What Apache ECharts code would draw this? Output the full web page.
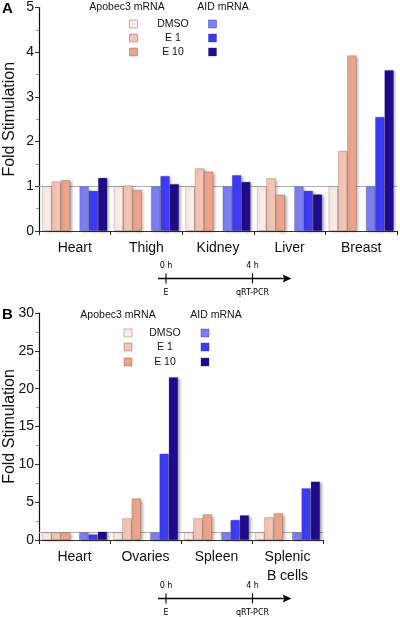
<!DOCTYPE html>
<html>
<head>
<meta charset="utf-8">
<script src="https://cdn.jsdelivr.net/npm/echarts@6/dist/echarts.min.js"></script>
<style>html,body{margin:0;padding:0;background:#fff;}#c{width:400px;height:617px;}</style>
</head>
<body>
<div id="c"></div>
<script>
// ---- Data ----
const catsA = ['Heart', 'Thigh', 'Kidney', 'Liver', 'Breast'];
const apoDmsoA = [1, 1, 1, 1, 1];
const apoE1A = [1.11, 1.02, 1.40, 1.18, 1.79];
const apoE10A = [1.14, 0.92, 1.33, 0.81, 3.93];
const aidDmsoA = [1, 1, 1, 1, 1];
const aidE1A = [0.90, 1.23, 1.25, 0.90, 2.55];
const aidE10A = [1.19, 1.05, 1.10, 0.82, 3.60];

const catsB = ['Heart', 'Ovaries', 'Spleen', 'Splenic\nB cells'];
const apoDmsoB = [1, 1, 1, 1];
const apoE1B = [1, 2.87, 2.87, 3.0];
const apoE10B = [1, 5.5, 3.4, 3.53];
const aidDmsoB = [1, 1, 1, 1];
const aidE1B = [0.75, 11.4, 2.65, 6.84];
const aidE10B = [1.1, 21.5, 3.27, 7.72];

const legendNames = ['DMSO', 'E 1', 'E 10'];
const apoColors = ['#fcebe5', '#f5c5b3', '#eda48a'];
const aidColors = ['#7c7ef4', '#3d3cf6', '#1e0b8e'];

// ---- Chart ----
const FONT = 'Liberation Sans, Arial, sans-serif';
const chart = echarts.init(document.getElementById('c'), null, {renderer: 'canvas'});

function barSeries(name, data, color, idx) {
  return {
    name: name, type: 'bar', xAxisIndex: idx, yAxisIndex: idx, data: data,
    barWidth: 9.3, barGap: '0%', z: 3,
    itemStyle: {
      color: color, borderColor: 'rgba(60,40,40,0.35)', borderWidth: 0.6,
      shadowColor: 'rgba(0,0,0,0.35)', shadowBlur: 3, shadowOffsetX: 2, shadowOffsetY: 1
    }
  };
}
function gapSeries(idx, n) {
  return {
    name: 'gap' + idx, type: 'bar', xAxisIndex: idx, yAxisIndex: idx,
    data: new Array(n).fill('-'), barWidth: 9.3, barGap: '0%', z: 1, silent: true,
    markLine: {
      silent: true, symbol: 'none', label: {show: false}, z: 1,
      lineStyle: {color: '#b0b0b0', width: 1, type: 'solid'},
      data: [{yAxis: 1}]
    }
  };
}
function panelSeries(idx, vals, n) {
  return [
    barSeries('Apobec3 DMSO', vals[0], apoColors[0], idx),
    barSeries('Apobec3 E 1', vals[1], apoColors[1], idx),
    barSeries('Apobec3 E 10', vals[2], apoColors[2], idx),
    gapSeries(idx, n),
    barSeries('AID DMSO', vals[3], aidColors[0], idx),
    barSeries('AID E 1', vals[4], aidColors[1], idx),
    barSeries('AID E 10', vals[5], aidColors[2], idx)
  ];
}

function xAxisDef(cats, idx) {
  return {
    type: 'category', gridIndex: idx, data: cats,
    axisLine: {lineStyle: {color: '#333', width: 1.2}},
    axisTick: {show: true, length: 4, lineStyle: {color: '#222'}},
    axisLabel: {color: '#111', fontFamily: FONT, fontSize: 14, margin: 8, lineHeight: 19}
  };
}
function yAxisDef(max, interval, idx) {
  return {
    type: 'value', gridIndex: idx, min: 0, max: max, interval: interval,
    name: 'Fold Stimulation', nameLocation: 'middle', nameRotate: 90, nameGap: 21,
    nameMoveOverlap: false,
    nameTextStyle: {color: '#111', fontFamily: FONT, fontSize: 16},
    axisLine: {show: true, lineStyle: {color: '#111', width: 1.2}},
    axisTick: {show: true, length: 4, lineStyle: {color: '#333'}},
    minorTick: {show: true, splitNumber: 2, length: 3, lineStyle: {color: '#999'}},
    splitLine: {show: false},
    axisLabel: {color: '#111', fontFamily: FONT, fontSize: 14, margin: 5}
  };
}

function legendGraphics(cfg) {
  const g = [];
  g.push({type: 'text', x: cfg.apoTitleX, y: cfg.titleY,
    style: {text: 'Apobec3 mRNA', font: '10.5px ' + FONT, fill: '#111', textAlign: 'center', textVerticalAlign: 'middle'}});
  g.push({type: 'text', x: cfg.aidTitleX, y: cfg.titleY,
    style: {text: 'AID mRNA', font: '10.5px ' + FONT, fill: '#111', textAlign: 'center', textVerticalAlign: 'middle'}});
  for (let i = 0; i < 3; i++) {
    const y = cfg.rowY[i];
    g.push({type: 'rect', shape: {x: cfg.apoSqX, y: y - 4, width: 8, height: 8},
      style: {fill: apoColors[i], stroke: 'rgba(90,60,60,0.5)', lineWidth: 0.7}});
    g.push({type: 'rect', shape: {x: cfg.aidSqX, y: y - 4, width: 8, height: 8},
      style: {fill: aidColors[i], stroke: 'rgba(40,40,90,0.5)', lineWidth: 0.7}});
    g.push({type: 'text', x: cfg.labelX, y: y, style: {text: legendNames[i], font: '10.5px ' + FONT,
      fill: '#111', textAlign: 'center', textVerticalAlign: 'middle'}});
  }
  return g;
}

function timeline(y0) {
  const g = [];
  const x0 = 158, xTip = 291.5, t0 = 166, t4 = 252.5;
  g.push({type: 'line', shape: {x1: x0, y1: y0, x2: xTip - 6, y2: y0}, style: {stroke: '#000', lineWidth: 1.3}});
  g.push({type: 'polygon', shape: {points: [[xTip, y0], [xTip - 9, y0 - 4], [xTip - 7, y0], [xTip - 9, y0 + 4]]}, style: {fill: '#000'}});
  g.push({type: 'line', shape: {x1: t0, y1: y0 - 5, x2: t0, y2: y0 + 5}, style: {stroke: '#000', lineWidth: 1.1}});
  g.push({type: 'line', shape: {x1: t4, y1: y0 - 5, x2: t4, y2: y0 + 5}, style: {stroke: '#000', lineWidth: 1.1}});
  const f = '8px DejaVu Sans, sans-serif';
  g.push({type: 'text', x: t0, y: y0 - 13, style: {text: '0 h', font: f, fill: '#000', textAlign: 'center', textVerticalAlign: 'middle'}});
  g.push({type: 'text', x: t4, y: y0 - 13, style: {text: '4 h', font: f, fill: '#000', textAlign: 'center', textVerticalAlign: 'middle'}});
  g.push({type: 'text', x: t0, y: y0 + 14, style: {text: 'E', font: f, fill: '#000', textAlign: 'center', textVerticalAlign: 'middle'}});
  g.push({type: 'text', x: t4, y: y0 + 14, style: {text: 'qRT-PCR', font: f, fill: '#000', textAlign: 'center', textVerticalAlign: 'middle'}});
  return g;
}

const graphics = [].concat(
  [{type: 'text', x: 2, y: 9, style: {text: 'A', font: 'bold 15px ' + FONT, fill: '#000', textVerticalAlign: 'middle'}},
   {type: 'text', x: 2, y: 315, style: {text: 'B', font: 'bold 15px ' + FONT, fill: '#000', textVerticalAlign: 'middle'}}],
  legendGraphics({apoTitleX: 127, aidTitleX: 223, titleY: 7, rowY: [24, 38, 52], apoSqX: 129.5, aidSqX: 208.5, labelX: 173}),
  legendGraphics({apoTitleX: 118, aidTitleX: 216, titleY: 315, rowY: [333, 347, 362], apoSqX: 124, aidSqX: 201, labelX: 165}),
  timeline(278.5),
  timeline(598.5)
);

const option = {
  animation: false,
  backgroundColor: '#fff',
  grid: [
    {left: 39, top: 7.5, width: 358, height: 223.5, containLabel: false, outerBoundsMode: 'none'},
    {left: 39, top: 313, width: 284, height: 227, containLabel: false, outerBoundsMode: 'none'}
  ],
  xAxis: [xAxisDef(catsA, 0), xAxisDef(catsB, 1)],
  yAxis: [yAxisDef(5, 1, 0), yAxisDef(30, 5, 1)],
  series: [].concat(
    panelSeries(0, [apoDmsoA, apoE1A, apoE10A, aidDmsoA, aidE1A, aidE10A], catsA.length),
    panelSeries(1, [apoDmsoB, apoE1B, apoE10B, aidDmsoB, aidE1B, aidE10B], catsB.length)
  ),
  graphic: graphics
};
chart.setOption(option);
</script>
</body>
</html>
